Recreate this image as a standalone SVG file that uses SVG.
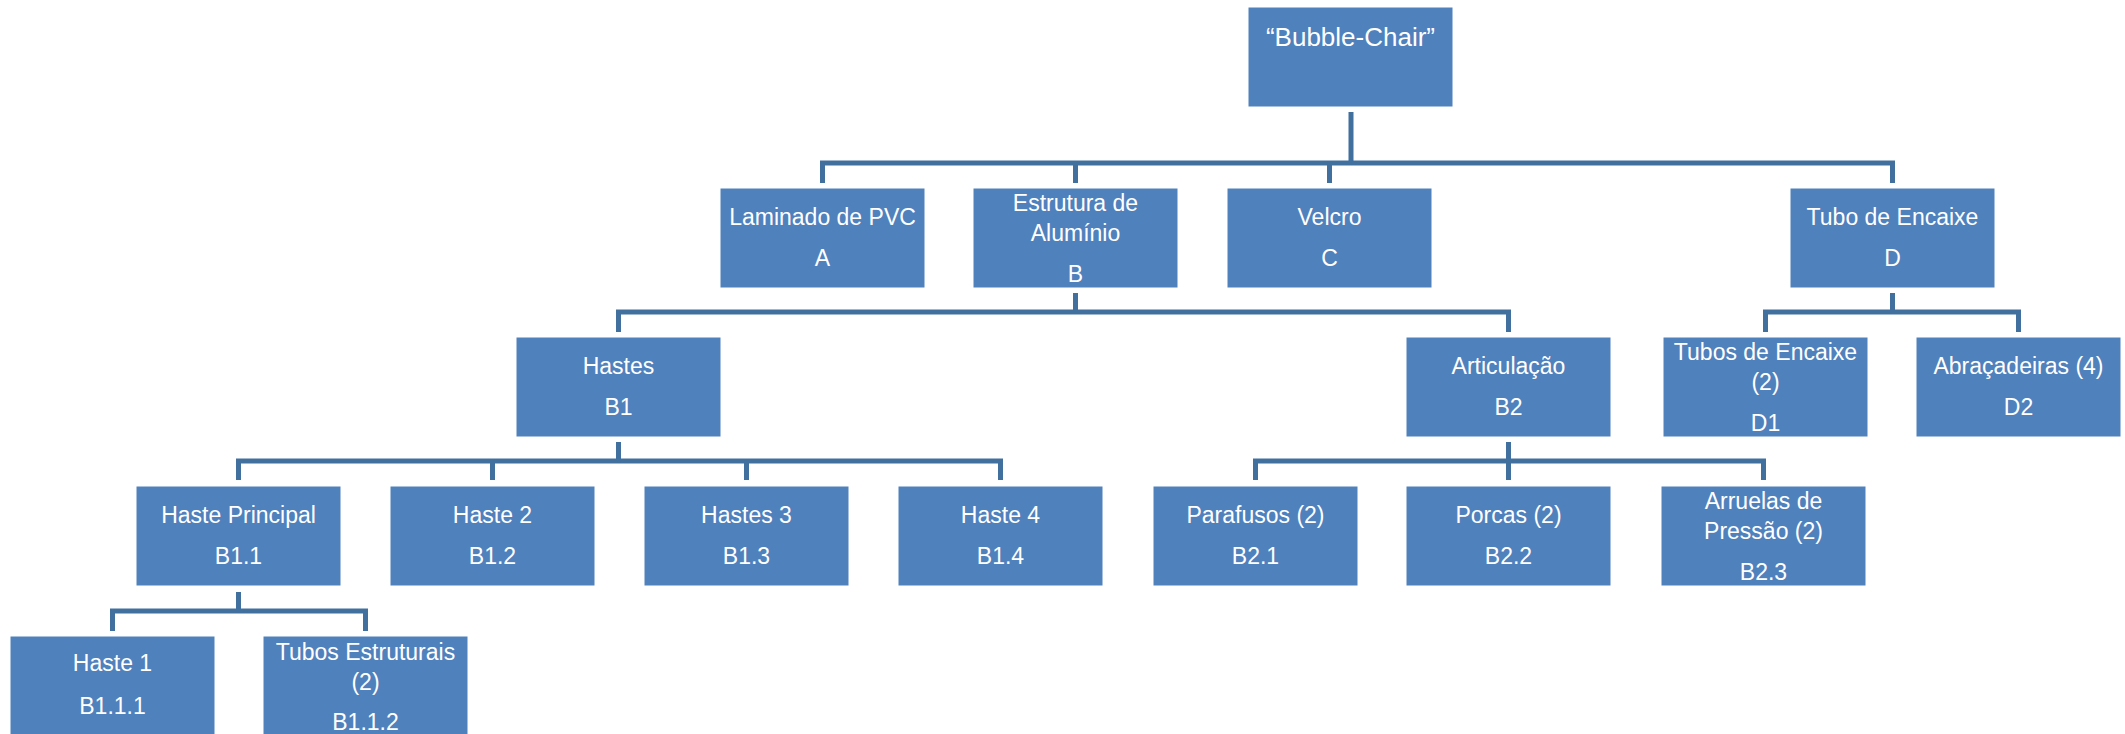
<svg xmlns="http://www.w3.org/2000/svg" width="2125" height="734" viewBox="0 0 2125 734">
  <style>
    .box { fill: #4F81BD; stroke: #FFFFFF; stroke-width: 1; }
    .lbl { font-family: "Liberation Sans", Arial, sans-serif; font-size: 23px; fill: #FFFFFF; text-anchor: middle; }
    .title { font-size: 26px; }
    .con { fill: none; stroke: #41709F; stroke-width: 5; stroke-linejoin: miter; stroke-linecap: butt; }
  </style>
  <rect x="0" y="0" width="2125" height="734" fill="#FFFFFF"/>

  <!-- tree connectors -->
  <g id="connectors">
    <!-- root to level 1 -->
    <path class="con" d="M1351 112 V163"/>
    <path class="con" d="M822.5 183 V163 H1892.5 V183"/>
    <path class="con" d="M1075.5 163 V183"/>
    <path class="con" d="M1329.5 163 V183"/>
    <!-- B to B1 / B2 -->
    <path class="con" d="M1075.5 293 V312"/>
    <path class="con" d="M618.5 332 V312 H1508.5 V332"/>
    <!-- D to D1 / D2 -->
    <path class="con" d="M1892.5 293 V312"/>
    <path class="con" d="M1765.5 332 V312 H2018.5 V332"/>
    <!-- B1 to B1.x -->
    <path class="con" d="M618.5 442 V461"/>
    <path class="con" d="M238.5 480 V461 H1000.5 V480"/>
    <path class="con" d="M492.5 461 V480"/>
    <path class="con" d="M746.5 461 V480"/>
    <!-- B2 to B2.x -->
    <path class="con" d="M1508.5 442 V480"/>
    <path class="con" d="M1255.5 480 V461 H1763.5 V480"/>
    <!-- B1.1 to B1.1.x -->
    <path class="con" d="M238.5 592 V611"/>
    <path class="con" d="M112.5 631 V611 H365.5 V631"/>
  </g>

  <g id="root">
    <rect class="box" x="1248" y="7" width="205" height="100"/>
    <text class="lbl title" x="1350.5" y="46">“Bubble-Chair”</text>
  </g>

  <g id="A">
    <rect class="box" x="720" y="188" width="205" height="100"/>
    <text class="lbl" x="822.5" y="225">Laminado de PVC</text>
    <text class="lbl" x="822.5" y="266">A</text>
  </g>
  <g id="B">
    <rect class="box" x="973" y="188" width="205" height="100"/>
    <text class="lbl" x="1075.5" y="211">Estrutura de</text>
    <text class="lbl" x="1075.5" y="241">Alumínio</text>
    <text class="lbl" x="1075.5" y="282">B</text>
  </g>
  <g id="C">
    <rect class="box" x="1227" y="188" width="205" height="100"/>
    <text class="lbl" x="1329.5" y="225">Velcro</text>
    <text class="lbl" x="1329.5" y="266">C</text>
  </g>
  <g id="D">
    <rect class="box" x="1790" y="188" width="205" height="100"/>
    <text class="lbl" x="1892.5" y="225">Tubo de Encaixe</text>
    <text class="lbl" x="1892.5" y="266">D</text>
  </g>

  <g id="B1">
    <rect class="box" x="516" y="337" width="205" height="100"/>
    <text class="lbl" x="618.5" y="374">Hastes</text>
    <text class="lbl" x="618.5" y="415">B1</text>
  </g>
  <g id="B2">
    <rect class="box" x="1406" y="337" width="205" height="100"/>
    <text class="lbl" x="1508.5" y="374">Articulação</text>
    <text class="lbl" x="1508.5" y="415">B2</text>
  </g>
  <g id="D1">
    <rect class="box" x="1663" y="337" width="205" height="100"/>
    <text class="lbl" x="1765.5" y="360">Tubos de Encaixe</text>
    <text class="lbl" x="1765.5" y="390">(2)</text>
    <text class="lbl" x="1765.5" y="431">D1</text>
  </g>
  <g id="D2">
    <rect class="box" x="1916" y="337" width="205" height="100"/>
    <text class="lbl" x="2018.5" y="374">Abraçadeiras (4)</text>
    <text class="lbl" x="2018.5" y="415">D2</text>
  </g>

  <g id="B1.1">
    <rect class="box" x="136" y="486" width="205" height="100"/>
    <text class="lbl" x="238.5" y="523">Haste Principal</text>
    <text class="lbl" x="238.5" y="564">B1.1</text>
  </g>
  <g id="B1.2">
    <rect class="box" x="390" y="486" width="205" height="100"/>
    <text class="lbl" x="492.5" y="523">Haste 2</text>
    <text class="lbl" x="492.5" y="564">B1.2</text>
  </g>
  <g id="B1.3">
    <rect class="box" x="644" y="486" width="205" height="100"/>
    <text class="lbl" x="746.5" y="523">Hastes 3</text>
    <text class="lbl" x="746.5" y="564">B1.3</text>
  </g>
  <g id="B1.4">
    <rect class="box" x="898" y="486" width="205" height="100"/>
    <text class="lbl" x="1000.5" y="523">Haste 4</text>
    <text class="lbl" x="1000.5" y="564">B1.4</text>
  </g>
  <g id="B2.1">
    <rect class="box" x="1153" y="486" width="205" height="100"/>
    <text class="lbl" x="1255.5" y="523">Parafusos (2)</text>
    <text class="lbl" x="1255.5" y="564">B2.1</text>
  </g>
  <g id="B2.2">
    <rect class="box" x="1406" y="486" width="205" height="100"/>
    <text class="lbl" x="1508.5" y="523">Porcas (2)</text>
    <text class="lbl" x="1508.5" y="564">B2.2</text>
  </g>
  <g id="B2.3">
    <rect class="box" x="1661" y="486" width="205" height="100"/>
    <text class="lbl" x="1763.5" y="509">Arruelas de</text>
    <text class="lbl" x="1763.5" y="539">Pressão (2)</text>
    <text class="lbl" x="1763.5" y="580">B2.3</text>
  </g>

  <g id="B1.1.1">
    <rect class="box" x="10" y="636" width="205" height="100"/>
    <text class="lbl" x="112.5" y="671">Haste 1</text>
    <text class="lbl" x="112.5" y="714">B1.1.1</text>
  </g>
  <g id="B1.1.2">
    <rect class="box" x="263" y="636" width="205" height="100"/>
    <text class="lbl" x="365.5" y="660">Tubos Estruturais</text>
    <text class="lbl" x="365.5" y="690">(2)</text>
    <text class="lbl" x="365.5" y="730">B1.1.2</text>
  </g>
</svg>
